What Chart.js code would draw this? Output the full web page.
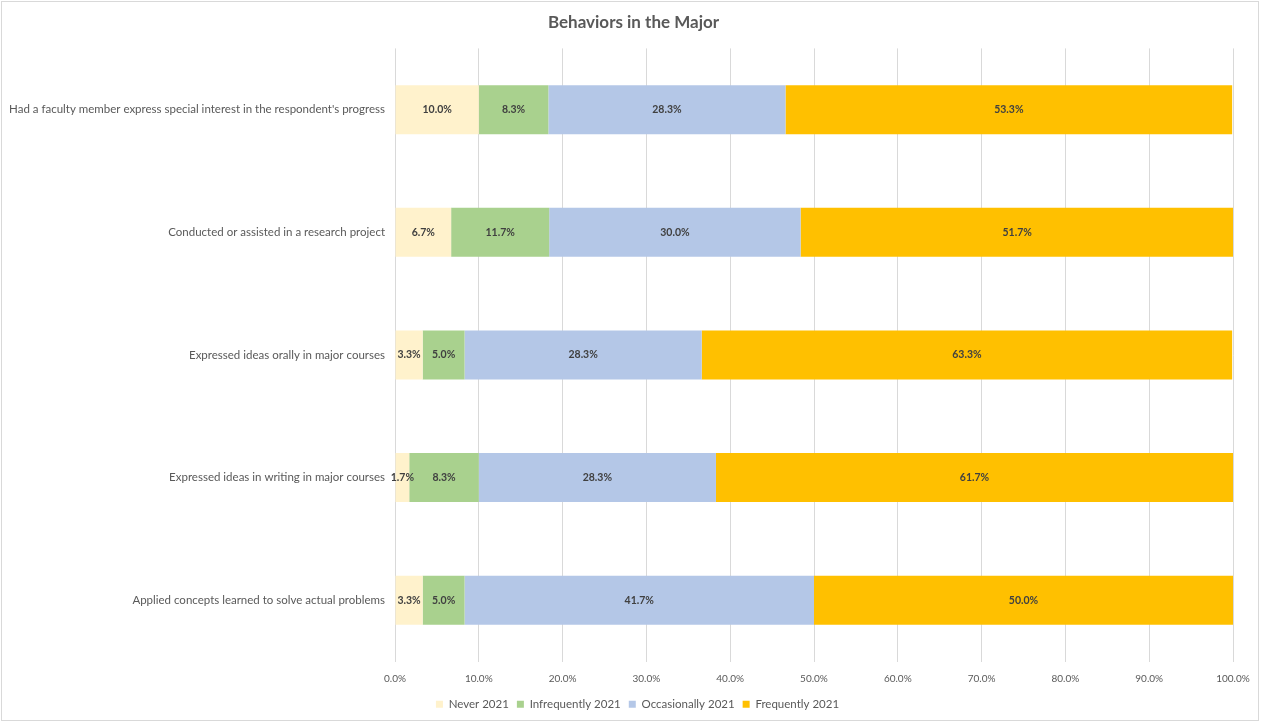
<!DOCTYPE html>
<html>
<head>
<meta charset="utf-8">
<title>Behaviors in the Major</title>
<script src="https://cdn.jsdelivr.net/npm/chart.js@4.4.1/dist/chart.umd.min.js"></script>
<style>
  body { margin: 0; background: #ffffff; }
  #behaviors { display: block; }
</style>
</head>
<body>
<canvas id="behaviors" width="1267" height="723"></canvas>
<script>
const CATEGORIES = [
  "Had a faculty member express special interest in the respondent's progress",
  "Conducted or assisted in a research project",
  "Expressed ideas orally in major courses",
  "Expressed ideas in writing in major courses",
  "Applied concepts learned to solve actual problems",
];
const NEVER = [10.0, 6.7, 3.3, 1.7, 3.3];
const INFREQUENTLY = [8.3, 11.7, 5.0, 8.3, 5.0];
const OCCASIONALLY = [28.3, 30.0, 28.3, 28.3, 41.7];
const FREQUENTLY = [53.3, 51.7, 63.3, 61.7, 50.0];
const SERIES_NAMES = ["Never 2021", "Infrequently 2021", "Occasionally 2021", "Frequently 2021"];
const X_TICKS = [0, 10, 20, 30, 40, 50, 60, 70, 80, 90, 100];

const COLORS = ["#FFF2CC", "#A9D18E", "#B4C7E7", "#FFC000"];
const TEXT = "#595959";
const FONT = "Lato, 'Open Sans', sans-serif";

window.onload = init;

// white background plus the thin grey frame round the whole chart
const frame = {
  id: "frame",
  beforeDraw(chart) {
    const ctx = chart.ctx;
    ctx.save();
    ctx.fillStyle = "#ffffff";
    ctx.fillRect(0, 0, chart.width, chart.height);
    ctx.strokeStyle = "#d9d9d9";
    ctx.lineWidth = 1;
    ctx.strokeRect(1.5, 1.5, 1257, 719);
    ctx.restore();
  },
};

// centre title and legend on the frame rather than the padded box
const recenter = {
  id: "recenter",
  afterLayout(chart) {
    chart.titleBlock.left += 13;
    chart.titleBlock.right += 13;
    chart.legend.left += 17;
    chart.legend.right += 17;
  },
};

// value text in the middle of every segment
const segmentLabels = {
  id: "segmentLabels",
  afterDatasetsDraw(chart) {
    const ctx = chart.ctx;
    ctx.save();
    ctx.font = "bold 10.5px " + FONT;
    ctx.fillStyle = "#404040";
    ctx.textAlign = "center";
    ctx.textBaseline = "middle";
    chart.data.datasets.forEach(function (ds, i) {
      chart.getDatasetMeta(i).data.forEach(function (bar, j) {
        const mid = (bar.x + bar.base) / 2;
        ctx.fillText(ds.data[j].toFixed(1) + "%", mid, bar.y);
      });
    });
    ctx.restore();
  },
};

function getDatasets() {
  const values = [NEVER, INFREQUENTLY, OCCASIONALLY, FREQUENTLY];
  return values.map(function (v, i) {
    return {
      label: SERIES_NAMES[i],
      data: v,
      backgroundColor: COLORS[i],
      borderWidth: 0,
      barPercentage: 0.4,
      categoryPercentage: 1.0,
    };
  });
}

function getOptions() {
  return {
    responsive: false,
    animation: false,
    indexAxis: "y",
    layout: { padding: { left: 8, right: 34, top: 0, bottom: 3 } },
    plugins: {
      title: {
        display: true,
        text: "Behaviors in the Major",
        color: TEXT,
        font: { family: FONT, size: 17, weight: "bold" },
        padding: { top: 12, bottom: 16 },
      },
      legend: {
        position: "bottom",
        labels: {
          color: TEXT,
          font: { family: FONT, size: 11.5 },
          boxWidth: 7,
          boxHeight: 7,
          padding: 8,
        },
      },
      tooltip: { enabled: false },
    },
    scales: {
      x: {
        stacked: true,
        min: 0,
        max: 100,
        afterBuildTicks: function (axis) {
          axis.ticks = X_TICKS.map(function (v) { return { value: v }; });
        },
        afterFit: function (axis) { axis.height -= 5; },
        ticks: {
          color: TEXT,
          font: { family: FONT, size: 10 },
          padding: 11,
          callback: function (v) { return v.toFixed(1) + "%"; },
        },
        grid: { color: "#d9d9d9", drawTicks: false },
        border: { display: false },
      },
      y: {
        stacked: true,
        afterFit: function (axis) { axis.width = 387; },
        ticks: {
          color: TEXT,
          font: { family: FONT, size: 11.5 },
          padding: 10,
        },
        grid: { display: false, drawTicks: false },
        border: { display: false },
      },
    },
  };
}

function init() {
  const ctx = document.getElementById("behaviors");
  let chart = new Chart(ctx, {
    type: "bar",
    data: { labels: CATEGORIES, datasets: getDatasets() },
    options: getOptions(),
    plugins: [frame, recenter, segmentLabels],
  });
}
</script>
</body>
</html>
